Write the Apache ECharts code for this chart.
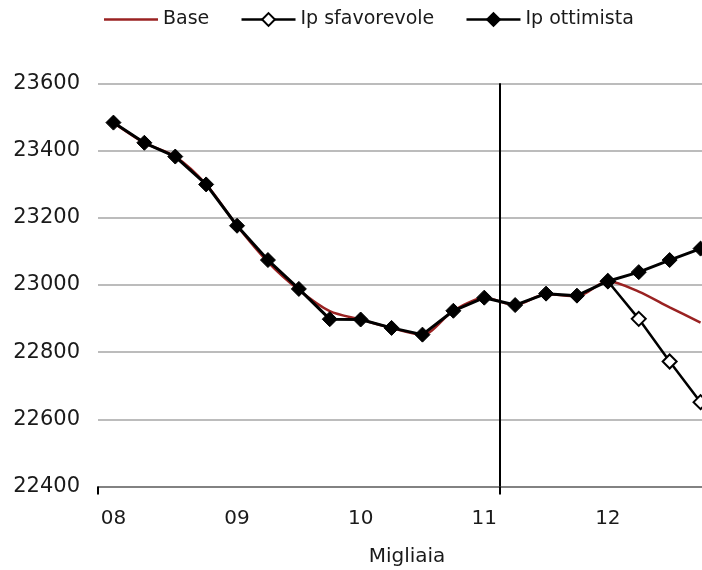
<!DOCTYPE html>
<html>
<head>
<meta charset="utf-8">
<script src="https://cdn.jsdelivr.net/npm/echarts@6/dist/echarts.min.js"></script>
<style>html,body{margin:0;padding:0;background:#fff;}#c{width:702px;height:570px;}</style>
</head>
<body>
<div id="c"></div>
<script>
// Quarterly categories 2008Q1 .. 2012Q4
const categories = ['08T1','08T2','08T3','08T4','09T1','09T2','09T3','09T4','10T1','10T2','10T3','10T4','11T1','11T2','11T3','11T4','12T1','12T2','12T3','12T4'];
const seriesNames = ['Base', 'Ip sfavorevole', 'Ip ottimista'];
const baseValues = [23483, 23423, 23382, 23299, 23176, 23068, 22985, 22922, 22897, 22872, 22852, 22923, 22962, 22940, 22972, 22966, 23011, 22980, 22933, 22888];
const sfavorevoleValues = [null, null, null, null, null, null, null, null, null, null, null, null, null, null, null, null, 23011, 22899, 22772, 22651];
const ottimistaValues = [23483, 23423, 23382, 23299, 23176, 23074, 22988, 22898, 22897, 22872, 22852, 22923, 22962, 22940, 22974, 22968, 23011, 23038, 23074, 23108];
const yTicks = [22400, 22600, 22800, 23000, 23200, 23400, 23600];
const forecastStartIndex = 13; // vertical divider drawn before this category
const xAxisName = 'Migliaia';

const font = 'DejaVu Sans';
const textColor = '#1a1a1a';
const baseColor = '#9a2222';
const chart = echarts.init(document.getElementById('c'));
chart.setOption({
  animation: false,
  backgroundColor: '#fff',
  textStyle: { fontFamily: font },
  legend: {
    left: 99, top: 5,
    itemWidth: 54, itemHeight: 16, itemGap: 31,
    lineStyle: { width: 2.5 },
    textStyle: { fontFamily: font, fontSize: 19, color: textColor },
    data: [
      { name: seriesNames[0], icon: 'path://M0,0L100,0L100,5L0,5Z', itemStyle: { color: baseColor } },
      { name: seriesNames[1] },
      { name: seriesNames[2] }
    ]
  },
  grid: { left: 98, right: -14, top: 83.3, bottom: 83.5, outerBoundsMode: 'none' },
  xAxis: [{
    type: 'category',
    data: categories,
    boundaryGap: true,
    name: xAxisName,
    nameLocation: 'middle',
    nameGap: 60,
    nameTextStyle: { fontFamily: font, fontSize: 20, color: textColor },
    axisLine: { show: true, lineStyle: { color: '#6f6f6f', width: 1.5 } },
    axisTick: { show: true, length: 8, lineStyle: { color: '#000', width: 2 },
      interval: function (i) { return i === 0 || i === forecastStartIndex; } },
    axisLabel: { interval: 3, margin: 22, fontFamily: font, fontSize: 20, color: textColor,
      formatter: function (v) { return v.slice(0, 2); } },
    splitLine: { show: false }
  }, {
    type: 'value', show: false, min: 0, max: categories.length,
    splitLine: { show: false }
  }],
  yAxis: {
    type: 'value',
    min: yTicks[0], max: yTicks[yTicks.length - 1], interval: 200,
    axisLine: { show: false }, axisTick: { show: false },
    axisLabel: { margin: 18, fontFamily: font, fontSize: 21, color: textColor,
      formatter: function (v) { return String(v); } },
    splitLine: { lineStyle: { color: '#a6a6a6', width: 1.5 } }
  },
  series: [
    { name: seriesNames[0], type: 'line', data: baseValues, smooth: 0.3,
      symbol: 'none', lineStyle: { color: baseColor, width: 2.5 }, itemStyle: { color: baseColor }, z: 2 },
    { name: seriesNames[1], type: 'line', data: sfavorevoleValues,
      symbol: 'diamond', symbolSize: 14, showAllSymbol: true,
      lineStyle: { color: '#000', width: 2.5 },
      itemStyle: { color: '#fff', borderColor: '#000', borderWidth: 2 }, z: 3 },
    { name: seriesNames[2], type: 'line', data: ottimistaValues,
      symbol: 'diamond', symbolSize: 15, showAllSymbol: true,
      lineStyle: { color: '#000', width: 3 },
      itemStyle: { color: '#000', borderColor: '#000', borderWidth: 1 }, z: 4 },
    { name: 'divider', type: 'line', xAxisIndex: 1, data: [], silent: true,
      markLine: { symbol: 'none', silent: true, label: { show: false },
        lineStyle: { color: '#000', width: 2, type: 'solid' },
        data: [{ xAxis: forecastStartIndex }] }, z: 1 }
  ]
});
</script>
</body>
</html>
